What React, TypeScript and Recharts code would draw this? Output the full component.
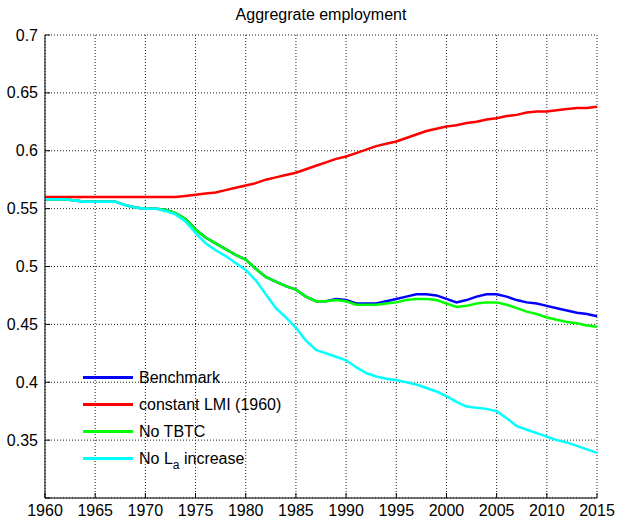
import React from "react";
import { LineChart, Line, XAxis, YAxis, CartesianGrid, Legend } from "recharts";

const years = [
    1960, 1961, 1962, 1963, 1964, 1965, 1966, 1967, 1968, 1969,
    1970, 1971, 1972, 1973, 1974, 1975, 1976, 1977, 1978, 1979,
    1980, 1981, 1982, 1983, 1984, 1985, 1986, 1987, 1988, 1989,
    1990, 1991, 1992, 1993, 1994, 1995, 1996, 1997, 1998, 1999,
    2000, 2001, 2002, 2003, 2004, 2005, 2006, 2007, 2008, 2009,
    2010, 2011, 2012, 2013, 2014, 2015,
];

const benchmark = [
    0.558, 0.558, 0.558, 0.557, 0.556, 0.556, 0.556, 0.556, 0.553, 0.551,
    0.55, 0.55, 0.549, 0.546, 0.541, 0.532, 0.525, 0.52, 0.515, 0.51,
    0.506, 0.498, 0.491, 0.487, 0.483, 0.48, 0.474, 0.47, 0.47, 0.472,
    0.471, 0.468, 0.468, 0.468, 0.47, 0.472, 0.474, 0.476, 0.476, 0.475,
    0.472, 0.469, 0.471, 0.474, 0.476, 0.476, 0.474, 0.471, 0.469, 0.468,
    0.466, 0.464, 0.462, 0.46, 0.459, 0.457,
];

const constantLMI = [
    0.56, 0.56, 0.56, 0.56, 0.56, 0.56, 0.56, 0.56, 0.56, 0.56,
    0.56, 0.56, 0.56, 0.56, 0.561, 0.562, 0.563, 0.564, 0.566, 0.568,
    0.57, 0.572, 0.575, 0.577, 0.579, 0.581, 0.584, 0.587, 0.59, 0.593,
    0.595, 0.598, 0.601, 0.604, 0.606, 0.608, 0.611, 0.614, 0.617, 0.619,
    0.621, 0.622, 0.624, 0.625, 0.627, 0.628, 0.63, 0.631, 0.633, 0.634,
    0.634, 0.635, 0.636, 0.637, 0.637, 0.638,
];

const noTBTC = [
    0.558, 0.558, 0.558, 0.557, 0.556, 0.556, 0.556, 0.556, 0.553, 0.551,
    0.55, 0.55, 0.549, 0.546, 0.541, 0.532, 0.525, 0.52, 0.515, 0.51,
    0.506, 0.498, 0.491, 0.487, 0.483, 0.48, 0.474, 0.47, 0.47, 0.471,
    0.47, 0.467, 0.467, 0.467, 0.468, 0.469, 0.471, 0.472, 0.472, 0.471,
    0.468, 0.465, 0.466, 0.468, 0.469, 0.469, 0.467, 0.464, 0.461, 0.459,
    0.456, 0.454, 0.452, 0.451, 0.449, 0.448,
];

const noLaIncrease = [
    0.558, 0.558, 0.558, 0.557, 0.556, 0.556, 0.556, 0.556, 0.553, 0.551,
    0.55, 0.55, 0.548, 0.545, 0.539, 0.529, 0.52, 0.514, 0.509, 0.503,
    0.497, 0.488, 0.476, 0.464, 0.456, 0.447, 0.436, 0.428, 0.425, 0.422,
    0.419, 0.413, 0.408, 0.405, 0.403, 0.402, 0.4, 0.398, 0.395, 0.392,
    0.388, 0.383, 0.379, 0.378, 0.377, 0.375, 0.369, 0.362, 0.359, 0.356,
    0.353, 0.35, 0.348, 0.345, 0.342, 0.339,
];

const xTicks = [1960, 1965, 1970, 1975, 1980, 1985, 1990, 1995, 2000, 2005, 2010, 2015];
const yTicks = [0.3, 0.35, 0.4, 0.45, 0.5, 0.55, 0.6, 0.65, 0.7];

const data = years.map((year, i) => ({
    year,
    benchmark: benchmark[i],
    lmi: constantLMI[i],
    tbtc: noTBTC[i],
    la: noLaIncrease[i],
}));

const FONT = '"Liberation Sans", Arial, Helvetica, sans-serif';

const series = [
    { key: "benchmark", color: "#0000ff", label: <>Benchmark</> },
    { key: "lmi", color: "#ff0000", label: <>constant LMI (1960)</> },
    { key: "tbtc", color: "#00ff00", label: <>No TBTC</> },
    {
        key: "la",
        color: "#00ffff",
        label: (
            <>
                No L<span style={{ fontSize: 12, position: "relative", top: 5 }}>a</span> increase
            </>
        ),
    },
];

const TICK_GAP = 7;

const XTick = (props: any) => {
    const { x, y, payload } = props;
    return (
        <g>
            <line x1={x} x2={x} y1={y - TICK_GAP} y2={y - TICK_GAP - 5} stroke="#000" />
            <text x={x} y={y} dy="0.71em" textAnchor="middle" fontSize={16} fontFamily={FONT} fill="#000">
                {payload.value}
            </text>
        </g>
    );
};

const YTick = (props: any) => {
    const { x, y, payload } = props;
    const v = payload.value;
    return (
        <g>
            <line x1={x + TICK_GAP} x2={x + TICK_GAP + 5} y1={y} y2={y} stroke="#000" />
            <text x={x} y={y} dy="0.35em" textAnchor="end" fontSize={16} fontFamily={FONT} fill="#000">
                {Math.abs(v - 0.3) < 1e-9 ? "" : String(v)}
            </text>
        </g>
    );
};

const renderLegend = () => (
    <div style={{ fontSize: 16, fontFamily: FONT, color: "#000" }}>
        {series.map((s) => (
            <div key={s.key} style={{ display: "flex", alignItems: "center", height: 27 }}>
                <div style={{ width: 50, height: 3, background: s.color, marginRight: 6 }} />
                <span style={{ whiteSpace: "nowrap" }}>{s.label}</span>
            </div>
        ))}
    </div>
);

const App: React.FC = () => {
    return (
        <div
            style={{
                position: "absolute",
                left: 0,
                top: 0,
                width: 618,
                height: 521,
                background: "#fff",
                fontFamily: FONT,
            }}
        >
            <div
                style={{
                    position: "absolute",
                    left: 45,
                    width: 552,
                    top: 5,
                    textAlign: "center",
                    fontSize: 16,
                    lineHeight: "20px",
                    color: "#000",
                }}
            >
                Aggregrate employment
            </div>
            <LineChart
                width={618}
                height={521}
                data={data}
                margin={{ top: 35, right: 21, left: 0, bottom: 0 }}
            >
                <CartesianGrid stroke="#222" strokeDasharray="1 2" />
                <XAxis
                    dataKey="year"
                    type="number"
                    domain={[1960, 2015]}
                    ticks={xTicks}
                    height={23}
                    tickSize={0}
                    tickMargin={TICK_GAP}
                    tickLine={false}
                    axisLine={{ stroke: "#000" }}
                    tick={<XTick />}
                    interval={0}
                />
                <YAxis
                    type="number"
                    domain={[0.3, 0.7]}
                    ticks={yTicks}
                    width={45}
                    tickSize={0}
                    tickMargin={TICK_GAP}
                    tickLine={false}
                    axisLine={{ stroke: "#000" }}
                    tick={<YTick />}
                    interval={0}
                />
                {series.map((s) => (
                    <Line
                        key={s.key}
                        type="linear"
                        dataKey={s.key}
                        stroke={s.color}
                        strokeWidth={2.5}
                        dot={false}
                        isAnimationActive={false}
                    />
                ))}
                <Legend
                    layout="vertical"
                    align="center"
                    verticalAlign="middle"
                    wrapperStyle={{ left: 83, top: 364, width: "auto", height: "auto" }}
                    content={renderLegend}
                />
            </LineChart>
        </div>
    );
};

export default App;
